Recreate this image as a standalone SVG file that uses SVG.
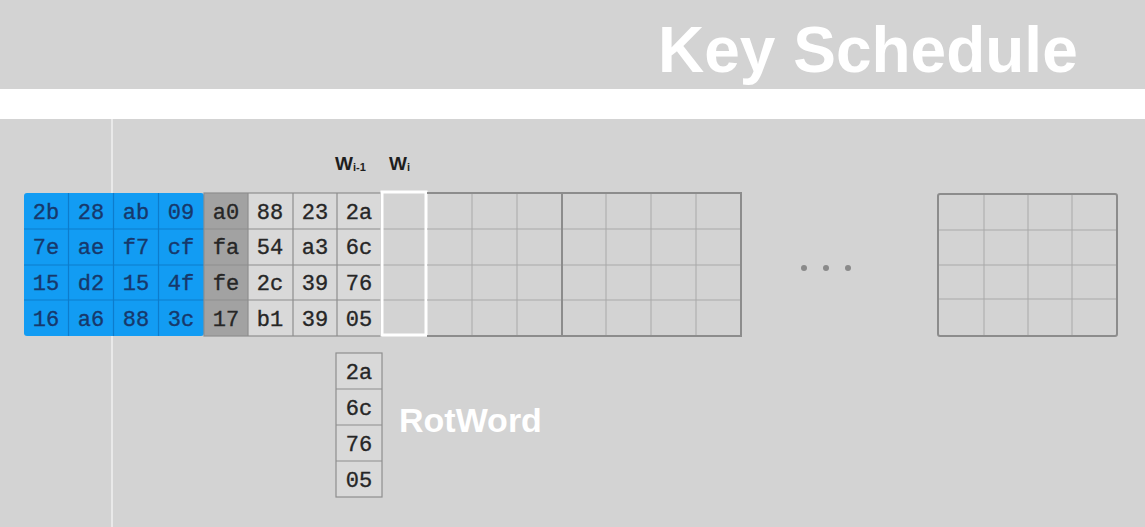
<svg xmlns="http://www.w3.org/2000/svg" width="1145" height="527" viewBox="0 0 1145 527">
<style>
.cell{font-family:"Liberation Mono","Courier New",monospace;font-size:22px;text-anchor:middle;stroke-width:0.35;}
.bt{fill:#17386b;stroke:#17386b;}
.gt{fill:#262626;stroke:#262626;}
.gl{stroke:#a9a9a9;stroke-width:1;fill:none;}
.gb{stroke:#8c8c8c;stroke-width:2;fill:none;}
.lbl{font-family:"Liberation Sans",Arial,sans-serif;font-weight:bold;}
</style>
<rect width="1145" height="527" fill="#d3d3d3"/>
<rect x="0" y="89" width="1145" height="30" fill="#ffffff"/>
<rect x="111" y="119" width="2" height="408" fill="#e9e9e9"/>
<g id="title"><text class="lbl" x="658" y="72" font-size="64" fill="#ffffff">Key Schedule</text></g>

<g id="labels">
<text class="lbl" x="335" y="170" font-size="19" fill="#1e1e1e">W<tspan font-size="11" dy="1">i-1</tspan></text>
<text class="lbl" x="389" y="170" font-size="19" fill="#1e1e1e">W<tspan font-size="11" dy="1">i</tspan></text>
</g>

<g id="key-block">
<rect x="24" y="193" width="180" height="143" rx="3" fill="#129cf3"/>
<g stroke="#0d7ccc" stroke-width="1.2">
<line x1="68.5" y1="193" x2="68.5" y2="336"/><line x1="113.5" y1="193" x2="113.5" y2="336"/><line x1="158.5" y1="193" x2="158.5" y2="336"/>
<line x1="24" y1="229" x2="204" y2="229"/><line x1="24" y1="265" x2="204" y2="265"/><line x1="24" y1="300" x2="204" y2="300"/>
</g>
<g class="cell bt">
<text x="46" y="219">2b</text><text x="91" y="219">28</text><text x="136" y="219">ab</text><text x="181" y="219">09</text>
<text x="46" y="254">7e</text><text x="91" y="254">ae</text><text x="136" y="254">f7</text><text x="181" y="254">cf</text>
<text x="46" y="290">15</text><text x="91" y="290">d2</text><text x="136" y="290">15</text><text x="181" y="290">4f</text>
<text x="46" y="326">16</text><text x="91" y="326">a6</text><text x="136" y="326">88</text><text x="181" y="326">3c</text>
</g>
</g>

<g id="round1">
<rect x="204" y="193" width="44" height="143" fill="#a2a2a2"/>
<rect x="248" y="193" width="133" height="143" fill="#d9d9d9"/>
<g stroke="#8e8e8e" stroke-width="1.2" fill="none">
<rect x="204" y="193" width="177" height="143"/>
<line x1="248" y1="193" x2="248" y2="336"/><line x1="293" y1="193" x2="293" y2="336"/><line x1="337" y1="193" x2="337" y2="336"/>
<line x1="204" y1="229" x2="381" y2="229"/><line x1="204" y1="265" x2="381" y2="265"/><line x1="204" y1="300" x2="381" y2="300"/>
</g>
<g class="cell gt">
<text x="226" y="219">a0</text><text x="270" y="219">88</text><text x="315" y="219">23</text><text x="359" y="219">2a</text>
<text x="226" y="254">fa</text><text x="270" y="254">54</text><text x="315" y="254">a3</text><text x="359" y="254">6c</text>
<text x="226" y="290">fe</text><text x="270" y="290">2c</text><text x="315" y="290">39</text><text x="359" y="290">76</text>
<text x="226" y="326">17</text><text x="270" y="326">b1</text><text x="315" y="326">39</text><text x="359" y="326">05</text>
</g>
</g>

<g id="wi-column">
<g class="gl" stroke="#c4c4c4"><line x1="383" y1="229" x2="426" y2="229"/><line x1="383" y1="265" x2="426" y2="265"/><line x1="383" y1="300" x2="426" y2="300"/></g>
<rect x="382" y="192" width="44" height="143" fill="none" stroke="#ffffff" stroke-width="3"/>
</g>

<g id="round1-rest">
<g class="gl">
<line x1="472" y1="193" x2="472" y2="336"/><line x1="517" y1="193" x2="517" y2="336"/>
<line x1="427" y1="229" x2="562" y2="229"/><line x1="427" y1="265" x2="562" y2="265"/><line x1="427" y1="300" x2="562" y2="300"/>
</g>
<g class="gb"><line x1="427" y1="193" x2="562" y2="193"/><line x1="427" y1="336" x2="562" y2="336"/></g>
</g>

<g id="round2">
<g class="gl">
<line x1="606" y1="193" x2="606" y2="336"/><line x1="651" y1="193" x2="651" y2="336"/><line x1="696" y1="193" x2="696" y2="336"/>
<line x1="562" y1="229" x2="741" y2="229"/><line x1="562" y1="265" x2="741" y2="265"/><line x1="562" y1="300" x2="741" y2="300"/>
</g>
<rect class="gb" x="562" y="193" width="179" height="143"/>
</g>

<g id="ellipsis" fill="#8a8a8a">
<circle cx="804" cy="268" r="3"/><circle cx="826" cy="268" r="3"/><circle cx="848" cy="268" r="3"/>
</g>

<g id="round10">
<g class="gl">
<line x1="984" y1="194" x2="984" y2="336"/><line x1="1028" y1="194" x2="1028" y2="336"/><line x1="1072" y1="194" x2="1072" y2="336"/>
<line x1="938" y1="230" x2="1117" y2="230"/><line x1="938" y1="265" x2="1117" y2="265"/><line x1="938" y1="299" x2="1117" y2="299"/>
</g>
<rect class="gb" x="938" y="194" width="179" height="142" rx="2"/>
</g>

<g id="rotword">
<rect x="336" y="353" width="46" height="144" fill="#d9d9d9" stroke="#8e8e8e" stroke-width="1.2"/>
<g stroke="#8e8e8e" stroke-width="1.2"><line x1="336" y1="389" x2="382" y2="389"/><line x1="336" y1="425" x2="382" y2="425"/><line x1="336" y1="461" x2="382" y2="461"/></g>
<g class="cell gt">
<text x="359" y="379">2a</text><text x="359" y="415">6c</text><text x="359" y="451">76</text><text x="359" y="487">05</text>
</g>
<text class="lbl" x="399" y="432" font-size="34" fill="#ffffff">RotWord</text>
</g>
</svg>
